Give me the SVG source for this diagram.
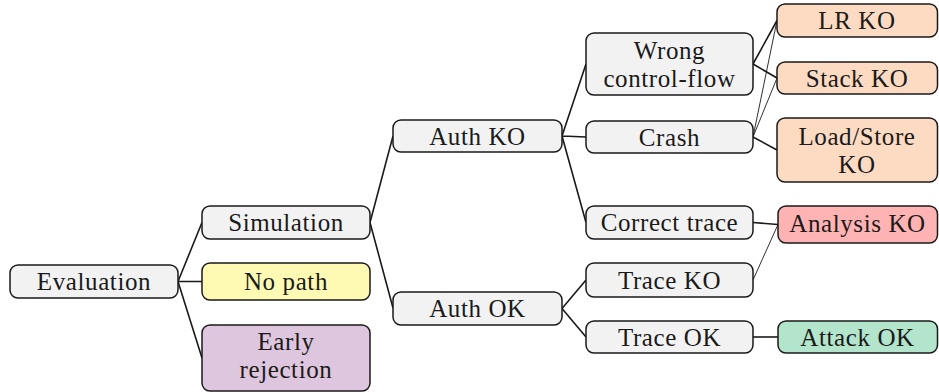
<svg xmlns="http://www.w3.org/2000/svg" width="939" height="392" viewBox="0 0 939 392">
<style>
.n rect{stroke:#1a1a1a;stroke-width:1.5}
.n text{font-family:'Liberation Serif',serif;font-size:25px;letter-spacing:0.6px;text-anchor:middle;fill:#1a1a1a}
.g{fill:#f2f2f2}.y{fill:#fffab3}.p{fill:#dfc6df}.o{fill:#fddbc3}.r{fill:#ffb3b3}.gr{fill:#b3e4cc}
#edges path{stroke:#1a1a1a;stroke-width:1.6;fill:none}
#edges path.t{stroke-width:0.9}
</style>
<g id="edges">
<path d="M178,281.5 L202,222.5 M178,281.5 L202,281.5 M178,281.5 L202,358"/>
<path d="M370,222.5 L393,136 M370,222.5 L393,308"/>
<path d="M562,136 L586,64 M562,136 L586,137 M562,136 L586,222.5"/>
<path d="M562,308.5 L586,280 M562,308.5 L586,337"/>
<path d="M753,64 L777,20.5 M753,64 L777,78"/>
<path class="t" d="M753,137 L777,20.5 M753,137 L777,78"/>
<path d="M753,137 L777,150"/>
<path d="M753,222.5 L778,224.5"/>
<path class="t" d="M753,280 L778,224.5"/>
<path d="M753,337 L778,337"/>
</g>
<g id="evaluation" class="n"><rect class="g" x="10" y="265" width="168" height="33" rx="8"/><text x="94" y="290">Evaluation</text></g>
<g id="simulation" class="n"><rect class="g" x="202" y="206" width="168" height="33" rx="8"/><text x="286" y="231">Simulation</text></g>
<g id="nopath" class="n"><rect class="y" x="202" y="263" width="168" height="37" rx="8"/><text x="286" y="290">No path</text></g>
<g id="early" class="n"><rect class="p" x="202" y="325" width="168" height="66" rx="8"/><text x="286" y="350">Early</text><text x="286" y="378">rejection</text></g>
<g id="authko" class="n"><rect class="g" x="393" y="120" width="169" height="32" rx="8"/><text x="477.5" y="144.5">Auth KO</text></g>
<g id="authok" class="n"><rect class="g" x="393" y="292" width="169" height="33" rx="8"/><text x="477.5" y="317">Auth OK</text></g>
<g id="wrongcf" class="n"><rect class="g" x="586" y="33" width="167" height="62" rx="8"/><text x="669.5" y="59">Wrong</text><text x="669.5" y="87">control-flow</text></g>
<g id="crash" class="n"><rect class="g" x="586" y="121" width="167" height="32" rx="8"/><text x="669.5" y="145.5">Crash</text></g>
<g id="correcttrace" class="n"><rect class="g" x="586" y="206" width="167" height="33" rx="8"/><text x="669.5" y="231">Correct trace</text></g>
<g id="traceko" class="n"><rect class="g" x="586" y="263" width="167" height="34" rx="8"/><text x="669.5" y="288.5">Trace KO</text></g>
<g id="traceok" class="n"><rect class="g" x="586" y="321" width="167" height="32" rx="8"/><text x="669.5" y="345.5">Trace OK</text></g>
<g id="lrko" class="n"><rect class="o" x="777" y="4" width="160.5" height="33" rx="8"/><text x="857" y="29">LR KO</text></g>
<g id="stackko" class="n"><rect class="o" x="777" y="62" width="160.5" height="32" rx="8"/><text x="857" y="86.5">Stack KO</text></g>
<g id="loadstore" class="n"><rect class="o" x="777" y="118" width="160.5" height="64" rx="8"/><text x="857" y="145">Load/Store</text><text x="857" y="173">KO</text></g>
<g id="analysisko" class="n"><rect class="r" x="778" y="206" width="159.5" height="37" rx="8"/><text x="857.5" y="232">Analysis KO</text></g>
<g id="attackok" class="n"><rect class="gr" x="778" y="321" width="159.5" height="32" rx="8"/><text x="857.5" y="345.5">Attack OK</text></g>
</svg>
